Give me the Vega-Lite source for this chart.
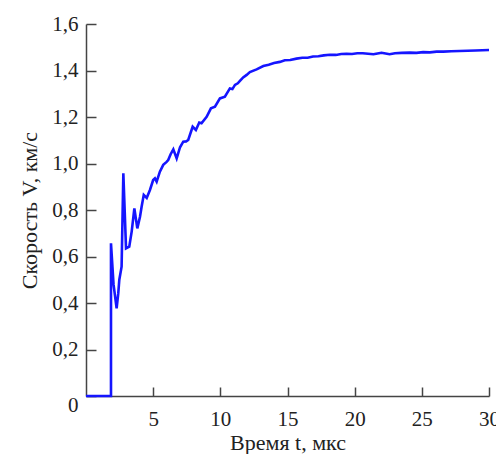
{
  "$schema": "https://vega.github.io/schema/vega-lite/v6.json",
  "autosize": "none",
  "width": 403,
  "height": 372,
  "padding": {"left": 86, "top": 24, "right": 7, "bottom": 58},
  "background": "white",
  "config": {
    "view": {"stroke": null},
    "font": "Liberation Serif",
    "axis": {
      "grid": false,
      "domainColor": "#444",
      "domainWidth": 1.5,
      "tickColor": "#444",
      "tickWidth": 1.5,
      "labelFont": "Liberation Serif",
      "titleFont": "Liberation Serif",
      "labelFontSize": 21,
      "titleFontSize": 22,
      "titleFontWeight": "normal",
      "labelColor": "#222",
      "titleColor": "#222"
    }
  },
  "data": {
    "values": [
      {"t": 0, "v": 0}, {"t": 1.86, "v": 0}, {"t": 1.86, "v": 0.657}, {"t": 2.05, "v": 0.48},
      {"t": 2.28, "v": 0.377}, {"t": 2.4, "v": 0.44}, {"t": 2.48, "v": 0.5}, {"t": 2.65, "v": 0.556},
      {"t": 2.78, "v": 0.958}, {"t": 2.98, "v": 0.635}, {"t": 3.22, "v": 0.642}, {"t": 3.4, "v": 0.707},
      {"t": 3.6, "v": 0.807}, {"t": 3.82, "v": 0.721}, {"t": 4.02, "v": 0.771}, {"t": 4.14, "v": 0.814},
      {"t": 4.3, "v": 0.865}, {"t": 4.52, "v": 0.852}, {"t": 4.76, "v": 0.886}, {"t": 5.0, "v": 0.929},
      {"t": 5.13, "v": 0.936}, {"t": 5.26, "v": 0.922}, {"t": 5.5, "v": 0.965}, {"t": 5.75, "v": 0.994},
      {"t": 6.0, "v": 1.007}, {"t": 6.12, "v": 1.015}, {"t": 6.3, "v": 1.04}, {"t": 6.5, "v": 1.061},
      {"t": 6.75, "v": 1.022}, {"t": 7.0, "v": 1.07}, {"t": 7.24, "v": 1.094}, {"t": 7.45, "v": 1.095},
      {"t": 7.61, "v": 1.101}, {"t": 7.94, "v": 1.158}, {"t": 8.18, "v": 1.144}, {"t": 8.43, "v": 1.176},
      {"t": 8.6, "v": 1.173}, {"t": 8.98, "v": 1.201}, {"t": 9.3, "v": 1.237}, {"t": 9.6, "v": 1.244},
      {"t": 9.97, "v": 1.28}, {"t": 10.34, "v": 1.287}, {"t": 10.71, "v": 1.323}, {"t": 10.9, "v": 1.32},
      {"t": 11.09, "v": 1.338}, {"t": 11.3, "v": 1.345}, {"t": 11.46, "v": 1.355}, {"t": 11.7, "v": 1.37},
      {"t": 11.96, "v": 1.381}, {"t": 12.2, "v": 1.393}, {"t": 12.7, "v": 1.405}, {"t": 13.2, "v": 1.419},
      {"t": 13.6, "v": 1.425}, {"t": 14.0, "v": 1.432}, {"t": 14.43, "v": 1.437}, {"t": 14.8, "v": 1.444},
      {"t": 15.2, "v": 1.445}, {"t": 15.67, "v": 1.451}, {"t": 16.1, "v": 1.455}, {"t": 16.5, "v": 1.455},
      {"t": 16.9, "v": 1.460}, {"t": 17.3, "v": 1.461}, {"t": 17.7, "v": 1.465}, {"t": 18.15, "v": 1.468},
      {"t": 18.6, "v": 1.467}, {"t": 19.0, "v": 1.471}, {"t": 19.4, "v": 1.472}, {"t": 19.8, "v": 1.471},
      {"t": 20.2, "v": 1.474}, {"t": 20.6, "v": 1.474}, {"t": 21.0, "v": 1.472}, {"t": 21.4, "v": 1.470},
      {"t": 21.7, "v": 1.473}, {"t": 22.0, "v": 1.476}, {"t": 22.3, "v": 1.473}, {"t": 22.6, "v": 1.470},
      {"t": 23.0, "v": 1.474}, {"t": 23.5, "v": 1.476}, {"t": 24.1, "v": 1.477}, {"t": 24.6, "v": 1.476},
      {"t": 25.1, "v": 1.479}, {"t": 25.6, "v": 1.478}, {"t": 26.1, "v": 1.481}, {"t": 26.6, "v": 1.481},
      {"t": 27.2, "v": 1.483}, {"t": 27.8, "v": 1.484}, {"t": 28.4, "v": 1.485}, {"t": 29.0, "v": 1.486},
      {"t": 29.5, "v": 1.487}, {"t": 30.0, "v": 1.488}
    ]
  },
  "mark": {"type": "line", "color": "#1515ff", "strokeWidth": 2.6, "interpolate": "linear"},
  "encoding": {
    "x": {
      "field": "t", "type": "quantitative", "sort": null,
      "scale": {"domain": [0, 30], "nice": false, "zero": false},
      "axis": {
        "title": "Время t, мкс",
        "values": [5, 10, 15, 20, 25, 30],
        "tickSize": -9,
        "labelPadding": 21,
        "titlePadding": 3,
        "labelFlush": false
      }
    },
    "y": {
      "field": "v", "type": "quantitative",
      "scale": {"domain": [0, 1.6], "nice": false},
      "axis": {
        "title": "Скорость V, км/с",
        "values": [0, 0.2, 0.4, 0.6, 0.8, 1.0, 1.2, 1.4, 1.6],
        "labelExpr": "datum.value == 0 ? '0' : replace(format(datum.value, '.1f'), '.', ',')",
        "tickSize": -10,
        "labelPadding": 18,
        "titlePadding": 10,
        "labelFlush": false,
        "labelOffset": {"condition": {"test": "datum.value == 0", "value": 9}, "value": 0}
      }
    }
  }
}
